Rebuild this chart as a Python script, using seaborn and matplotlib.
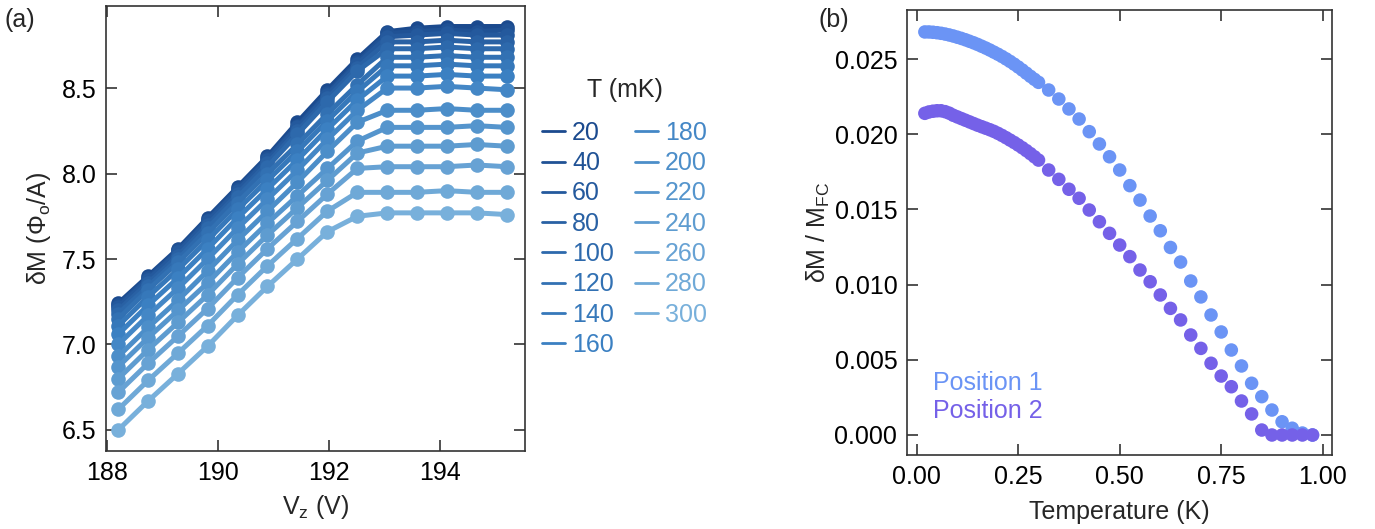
import numpy as np
import pandas as pd
import matplotlib
matplotlib.use("Agg")
import matplotlib.pyplot as plt
from matplotlib.lines import Line2D
import seaborn as sns

# ---- panel (a): dM vs Vz for several temperatures ----
vz = [188.20, 188.74, 189.28, 189.81, 190.35, 190.89, 191.43,
      191.97, 192.51, 193.05, 193.58, 194.12, 194.66, 195.20]
temps_mk = [20, 40, 60, 80, 100, 120, 140, 160, 180, 200, 220, 240, 260, 280, 300]

dm_20 = [7.24, 7.40, 7.56, 7.74, 7.92, 8.10, 8.30, 8.49, 8.67, 8.83, 8.85, 8.86, 8.86, 8.86]
dm_40 = [7.23, 7.39, 7.55, 7.73, 7.91, 8.09, 8.28, 8.47, 8.65, 8.82, 8.83, 8.84, 8.83, 8.84]
dm_60 = [7.22, 7.38, 7.54, 7.72, 7.90, 8.08, 8.27, 8.46, 8.64, 8.80, 8.81, 8.82, 8.81, 8.81]
dm_80 = [7.20, 7.36, 7.52, 7.70, 7.88, 8.06, 8.25, 8.44, 8.62, 8.77, 8.77, 8.78, 8.77, 8.77]
dm_100 = [7.18, 7.34, 7.50, 7.68, 7.86, 8.04, 8.23, 8.42, 8.60, 8.73, 8.73, 8.74, 8.73, 8.73]
dm_120 = [7.15, 7.32, 7.48, 7.65, 7.83, 8.00, 8.17, 8.35, 8.52, 8.68, 8.68, 8.69, 8.68, 8.68]
dm_140 = [7.11, 7.28, 7.44, 7.61, 7.79, 7.96, 8.13, 8.31, 8.48, 8.63, 8.63, 8.64, 8.63, 8.63]
dm_160 = [7.06, 7.23, 7.39, 7.56, 7.74, 7.91, 8.08, 8.26, 8.43, 8.57, 8.57, 8.58, 8.57, 8.57]
dm_180 = [7.00, 7.17, 7.33, 7.50, 7.68, 7.85, 8.02, 8.20, 8.37, 8.50, 8.50, 8.51, 8.50, 8.49]
dm_200 = [6.93, 7.10, 7.26, 7.43, 7.61, 7.78, 7.95, 8.13, 8.30, 8.37, 8.37, 8.38, 8.37, 8.37]
dm_220 = [6.87, 7.04, 7.20, 7.36, 7.54, 7.71, 7.87, 8.03, 8.19, 8.27, 8.27, 8.27, 8.28, 8.27]
dm_240 = [6.80, 6.97, 7.13, 7.29, 7.47, 7.64, 7.80, 7.96, 8.12, 8.16, 8.16, 8.16, 8.17, 8.16]
dm_260 = [6.72, 6.89, 7.05, 7.21, 7.39, 7.56, 7.72, 7.88, 8.03, 8.04, 8.04, 8.04, 8.05, 8.04]
dm_280 = [6.62, 6.79, 6.95, 7.11, 7.29, 7.46, 7.62, 7.78, 7.89, 7.89, 7.89, 7.90, 7.89, 7.89]
dm_300 = [6.50, 6.67, 6.83, 6.99, 7.17, 7.34, 7.50, 7.66, 7.75, 7.77, 7.77, 7.77, 7.77, 7.76]

dm_curves = [dm_20, dm_40, dm_60, dm_80, dm_100, dm_120, dm_140, dm_160,
             dm_180, dm_200, dm_220, dm_240, dm_260, dm_280, dm_300]

# ---- panel (b): normalised dM vs temperature at two positions ----
temp_k = [0.02, 0.03, 0.04, 0.05, 0.06, 0.07, 0.08, 0.09, 0.10, 0.11,
          0.12, 0.13, 0.14, 0.15, 0.16, 0.17, 0.18, 0.19, 0.20, 0.21,
          0.22, 0.23, 0.24, 0.25, 0.26, 0.27, 0.28, 0.29, 0.300, 0.325,
          0.350, 0.375, 0.400, 0.425, 0.450, 0.475, 0.500, 0.525, 0.550,
          0.575, 0.600, 0.625, 0.650, 0.675, 0.700, 0.725, 0.750, 0.775,
          0.800, 0.825, 0.850, 0.875, 0.900, 0.925, 0.950, 0.975]
pos1 = [0.02680, 0.02680, 0.02678, 0.02675, 0.02671, 0.02666, 0.02660, 0.02653,
        0.02645, 0.02637, 0.02628, 0.02618, 0.02608, 0.02597, 0.02585, 0.02573,
        0.02560, 0.02546, 0.02532, 0.02517, 0.02501, 0.02484, 0.02466, 0.02447,
        0.02427, 0.02406, 0.02385, 0.02365, 0.02345, 0.02294, 0.02234, 0.02168,
        0.02101, 0.02017, 0.01935, 0.01850, 0.01762, 0.01658, 0.01562, 0.01456,
        0.01358, 0.01247, 0.01150, 0.01024, 0.00918, 0.00798, 0.00685, 0.00565,
        0.00459, 0.00344, 0.00255, 0.00166, 0.00088, 0.00045, 0.00013, 0.00000]
pos2 = [0.02139, 0.02148, 0.02153, 0.02156, 0.02156, 0.02150, 0.02140, 0.02126,
        0.02115, 0.02104, 0.02093, 0.02082, 0.02071, 0.02060, 0.02050, 0.02040,
        0.02030, 0.02019, 0.02006, 0.01992, 0.01977, 0.01961, 0.01945, 0.01928,
        0.01910, 0.01891, 0.01871, 0.01850, 0.01828, 0.01762, 0.01700, 0.01634,
        0.01574, 0.01496, 0.01418, 0.01341, 0.01263, 0.01186, 0.01097, 0.01019,
        0.00931, 0.00842, 0.00765, 0.00665, 0.00576, 0.00477, 0.00392, 0.00321,
        0.00226, 0.00140, 0.00033, 0.00000, 0.00000, 0.00000, 0.00000, 0.00000]
position_names = ["Position 1", "Position 2"]

# ---- style ----
sns.set_theme(style="ticks")
plt.rcParams["font.family"] = ["Liberation Sans", "DejaVu Sans"]
plt.rcParams["mathtext.default"] = "regular"
FS = 18
plt.rcParams.update({
    "font.size": FS,
    "axes.edgecolor": "#333333",
    "axes.linewidth": 1.2,
    "xtick.color": "#333333",
    "ytick.color": "#333333",
    "xtick.labelcolor": "black",
    "ytick.labelcolor": "black",
})

palette = sns.blend_palette(["#1b4a8e", "#3b80c2", "#78b0db"], len(temps_mk))
pos_colors = ["#6b94f5", "#7561e8"]

fig = plt.figure(figsize=(13.75, 5.29), dpi=100)
W, H = 1375, 529
ax1 = fig.add_axes([106 / W, 1 - 451 / H, (525 - 106) / W, (451 - 6) / H])
ax2 = fig.add_axes([907 / W, 1 - 455 / H, (1332 - 907) / W, (455 - 10) / H])

# panel (a)
df_a = pd.DataFrame({
    "Vz": np.tile(vz, len(temps_mk)),
    "dM": np.concatenate(dm_curves),
    "T": np.repeat(temps_mk, len(vz)),
})
sns.lineplot(data=df_a, x="Vz", y="dM", hue="T", palette=palette,
             marker="o", markersize=10.5, markeredgewidth=0, linewidth=3.6,
             legend=False, ax=ax1, sort=True)
ax1.set_xlim(187.98, 195.53)
ax1.set_ylim(6.377, 8.98)
ax1.set_xticks([188, 190, 192, 194])
ax1.set_yticks([6.5, 7.0, 7.5, 8.0, 8.5])
ax1.set_xlabel("V$_z$ (V)", fontsize=FS, labelpad=6)
ax1.set_ylabel("δM (Φ$_o$/A)", fontsize=FS, labelpad=6)

handles = [Line2D([], [], color=c, linewidth=2) for c in palette]
fig.text(625 / W, 1 - 90 / H, "T (mK)", fontsize=FS, ha="center", va="center")
fig.legend(handles, [str(t) for t in temps_mk], ncol=2, fontsize=FS,
           labelcolor="linecolor", frameon=False,
           loc="upper left", bbox_to_anchor=(532 / W, 1 - 111 / H),
           handlelength=0.9, handletextpad=0.3, columnspacing=0.85,
           labelspacing=0.25, borderaxespad=0)

# panel (b)
df_b = pd.DataFrame({
    "T": np.concatenate([temp_k, temp_k]),
    "ratio": np.concatenate([pos1, pos2]),
    "Position": np.repeat(position_names, len(temp_k)),
})
sns.scatterplot(data=df_b, x="T", y="ratio", hue="Position",
                palette=pos_colors, s=95, linewidth=0, legend=False, ax=ax2)
ax2.set_xlim(-0.024, 1.023)
ax2.set_ylim(-0.00133, 0.02826)
ax2.set_xticks([0.0, 0.25, 0.5, 0.75, 1.0])
ax2.set_yticks([0.0, 0.005, 0.010, 0.015, 0.020, 0.025])
ax2.set_xlabel("Temperature (K)", fontsize=FS, labelpad=8)
ax2.set_ylabel("δM / M$_{FC}$", fontsize=FS, labelpad=2)
ax2.text(0.04, 0.00346, position_names[0], color=pos_colors[0],
         fontsize=FS, va="center", ha="left")
ax2.text(0.04, 0.00160, position_names[1], color=pos_colors[1],
         fontsize=FS, va="center", ha="left")

for ax in (ax1, ax2):
    ax.tick_params(direction="in", length=8, width=1.2, top=True, right=True,
                   labelsize=FS, pad=7)
    for sp in ax.spines.values():
        sp.set_visible(True)

fig.text(5 / W, 1 - 20 / H, "(a)", fontsize=FS, va="center", ha="left")
fig.text(818 / W, 1 - 20 / H, "(b)", fontsize=FS, va="center", ha="left")

fig.savefig("out.png", dpi=100)
